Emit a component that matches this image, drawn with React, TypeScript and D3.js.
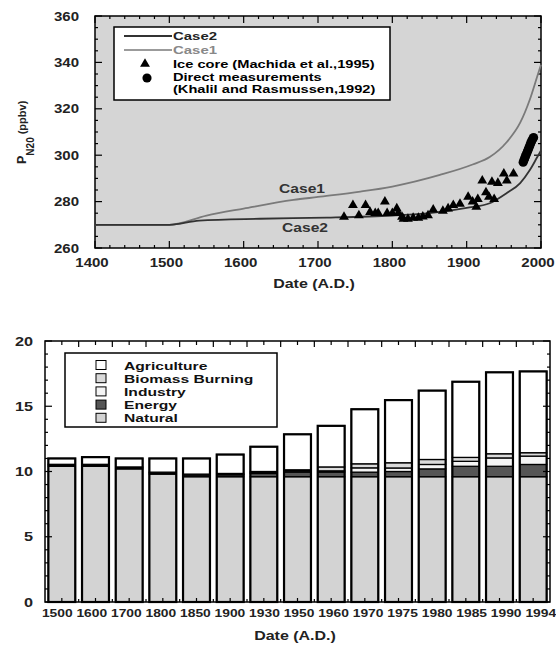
import React from 'react';
import * as d3 from 'd3';

// top panel: N2O concentration
const case1Years = [1400, 1500, 1550, 1600, 1667, 1700, 1757, 1800, 1864, 1908, 1931, 1954, 1972, 1985, 1995, 2000];
const case1Vals = [270, 270, 274, 277, 280.7, 282, 284.3, 286.5, 291.5, 296, 299.2, 305.7, 314, 324, 334, 339];
const case2Years = [1400, 1500, 1540, 1622, 1712, 1800, 1850, 1900, 1931, 1954, 1972, 1985, 1995, 2000];
const case2Vals = [270, 270, 271.8, 272.6, 273.1, 274, 275, 277.3, 279.3, 283.7, 288, 293.6, 299.2, 302];
const iceYears = [1735, 1747, 1755, 1764, 1770, 1777, 1781, 1790, 1793, 1800, 1806, 1808, 1813, 1815, 1821, 1828, 1835, 1841, 1848, 1855, 1868, 1875, 1882, 1891, 1902, 1908, 1913, 1915, 1921, 1926, 1930, 1934, 1937, 1942, 1950, 1954, 1963];
const iceVals = [273.4, 278.5, 274, 278.5, 275.5, 275, 275, 280, 275, 275, 277, 275, 273.4, 272.5, 272.5, 273, 273, 273.5, 274, 276.5, 276, 277, 278.5, 279, 282, 280, 277.7, 281, 289, 284, 282, 288.5, 281, 288, 292, 289, 292];
const directYears = [1976, 1977, 1978, 1979, 1980, 1981, 1982, 1983, 1984, 1985, 1986, 1987, 1988, 1989, 1990];
const directVals = [297, 297.8, 298.6, 299.4, 300.2, 301, 301.8, 302.6, 303.4, 304.2, 305, 305.8, 306.5, 307.1, 307.6];

// bottom panel: emissions by source
const barYears = ['1500', '1600', '1700', '1800', '1850', '1900', '1930', '1950', '1960', '1970', '1975', '1980', '1985', '1990', '1994'];
const natural = [10.4, 10.4, 10.2, 9.8, 9.6, 9.6, 9.6, 9.6, 9.6, 9.6, 9.6, 9.6, 9.6, 9.6, 9.6];
const energy = [0.1, 0.1, 0.1, 0.1, 0.12, 0.15, 0.25, 0.35, 0.35, 0.35, 0.4, 0.6, 0.8, 0.8, 0.94];
const industry = [0, 0, 0, 0, 0, 0.02, 0.05, 0.08, 0.1, 0.33, 0.27, 0.34, 0.38, 0.64, 0.64];
const biomass = [0.05, 0.05, 0.05, 0.05, 0.08, 0.08, 0.1, 0.1, 0.3, 0.31, 0.4, 0.38, 0.3, 0.32, 0.26];
const agriculture = [0.45, 0.55, 0.65, 1.05, 1.2, 1.45, 1.9, 2.72, 3.15, 4.18, 4.8, 5.28, 5.8, 6.24, 6.23];

const sourceNames = ['Natural', 'Energy', 'Industry', 'Biomass Burning', 'Agriculture'];
const sourceColors = ['#d3d3d3', '#555555', '#f4f4f4', '#dadada', '#ffffff'];
const legendOrder = ['Agriculture', 'Biomass Burning', 'Industry', 'Energy', 'Natural'];

const FONT = '"Liberation Sans", Arial, Helvetica, sans-serif';

// text stretched horizontally, like the scanned figure
function T({ x, y, sx = 1.28, size = 12, anchor = 'start', fill = '#222', children }: any) {
  return (
    <text
      transform={`translate(${x},${y}) scale(${sx},1)`}
      fontSize={size}
      fontWeight="bold"
      textAnchor={anchor}
      fill={fill}
    >
      {children}
    </text>
  );
}

function TopPanel() {
  const x = d3.scaleLinear().domain([1400, 2000]).range([95, 541]);
  const y = d3.scaleLinear().domain([260, 360]).range([248, 16]);
  const [x0, x1] = x.range();
  const [y0, y1] = y.range();

  const line = d3.line<[number, number]>().x(d => x(d[0])).y(d => y(d[1])).curve(d3.curveMonotoneX);
  const c1 = case1Years.map((v, i) => [v, case1Vals[i]] as [number, number]);
  const c2 = case2Years.map((v, i) => [v, case2Vals[i]] as [number, number]);
  const tri = d3.symbol().type(d3.symbolTriangle).size(42)();
  const circ = d3.symbol().type(d3.symbolCircle).size(66)();

  const xMinor = d3.range(1400, 2001, 20);
  const yMinor = d3.range(260, 361, 5);

  return (
    <g fontFamily={FONT}>
      <rect x={x0} y={y1} width={x1 - x0} height={y0 - y1} fill="#d5d5d5" />
      {/* ticks */}
      {xMinor.map(t => {
        const len = t % 100 === 0 ? 7 : 3;
        return (
          <g key={'xt' + t} stroke="#000" strokeWidth={1.2}>
            <line x1={x(t)} x2={x(t)} y1={y0} y2={y0 - len} />
            <line x1={x(t)} x2={x(t)} y1={y1} y2={y1 + len} />
          </g>
        );
      })}
      {yMinor.map(t => {
        const len = t % 20 === 0 ? 7 : 3;
        return (
          <g key={'yt' + t} stroke="#000" strokeWidth={1.2}>
            <line x1={x0} x2={x0 + len} y1={y(t)} y2={y(t)} />
            <line x1={x1} x2={x1 - len} y1={y(t)} y2={y(t)} />
          </g>
        );
      })}
      <rect x={x0} y={y1} width={x1 - x0} height={y0 - y1} fill="none" stroke="#000" strokeWidth={1.5} />

      <path d={line(c1) || ''} fill="none" stroke="#7a7a7a" strokeWidth={1.8} />
      <path d={line(c2) || ''} fill="none" stroke="#333" strokeWidth={1.8} />
      {iceYears.map((yr, i) => (
        <path key={'ice' + i} d={tri || ''} transform={`translate(${x(yr)},${y(iceVals[i])})`} fill="#000" />
      ))}
      {directYears.map((yr, i) => (
        <path key={'dm' + i} d={circ || ''} transform={`translate(${x(yr)},${y(directVals[i])})`} fill="#000" />
      ))}

      <T x={302} y={193} size={12.5} sx={1.25} anchor="middle" fill="#333">Case1</T>
      <T x={305} y={232} size={12.5} sx={1.25} anchor="middle" fill="#333">Case2</T>

      {/* legend */}
      <rect x={114} y={27} width={276} height={73} fill="#fff" stroke="#000" strokeWidth={1.5} />
      <line x1={124} x2={172} y1={36} y2={36} stroke="#333" strokeWidth={1.8} />
      <line x1={124} x2={172} y1={50} y2={50} stroke="#7a7a7a" strokeWidth={1.5} />
      <path d={tri || ''} transform="translate(145,64)" fill="#000" />
      <path d={circ || ''} transform="translate(147,78)" fill="#000" />
      <T x={173} y={40} size={11.5} sx={1.3} fill="#222">Case2</T>
      <T x={173} y={54} size={11.5} sx={1.3} fill="#888">Case1</T>
      <T x={173} y={68} size={11} sx={1.33} fill="#000">Ice core (Machida et al.,1995)</T>
      <T x={173} y={81} size={11} sx={1.33} fill="#000">Direct measurements</T>
      <T x={173} y={93} size={11} sx={1.33} fill="#000">(Khalil and Rasmussen,1992)</T>

      {/* tick labels */}
      {d3.range(260, 361, 20).map(t => (
        <T key={'yl' + t} x={79} y={y(t) + 4.5} size={12} sx={1.25} anchor="end">{t}</T>
      ))}
      {d3.range(1400, 2001, 100).map(t => (
        <T key={'xl' + t} x={x(t) - 3} y={267} size={12} sx={1.25} anchor="middle">{t}</T>
      ))}
      <T x={314} y={288} size={13} sx={1.23} anchor="middle">Date (A.D.)</T>
      <text transform="translate(26,164) rotate(-90)" fontSize={12.5} fontWeight="bold" fill="#222">
        P<tspan fontSize={10} dy={8}>N20</tspan><tspan dy={-8} dx={3} fontSize={11}>(ppbv)</tspan>
      </text>
    </g>
  );
}

function BottomPanel() {
  const x = d3.scaleBand<string>().domain(barYears).range([45, 550]).paddingInner(0.2).paddingOuter(0.1);
  // the printed year labels are spread a little wider than the bars
  const xLab = d3.scaleBand<string>().domain(barYears).range([40, 558]);
  const y = d3.scaleLinear().domain([0, 20]).range([602, 341]);
  const [x0, x1] = x.range();
  const [y0, y1] = y.range();

  const rows = barYears.map((yr, i) => ({
    year: yr,
    Natural: natural[i],
    Energy: energy[i],
    Industry: industry[i],
    'Biomass Burning': biomass[i],
    Agriculture: agriculture[i],
  }));
  const series = d3.stack<any>().keys(sourceNames)(rows);
  const color = d3.scaleOrdinal<string, string>().domain(sourceNames).range(sourceColors);

  const step = x.step();
  const bw = x.bandwidth();
  const topTicks = d3.range(0, barYears.length * 2 + 1).map(i => x0 + step * 0.1 + bw / 2 + (i - 1) * step / 2);

  return (
    <g fontFamily={FONT}>
      {series.map(s => (
        <g key={s.key} fill={color(s.key)}>
          {s.map((d, i) => (
            <rect
              key={i}
              x={x(barYears[i])}
              y={y(d[1])}
              width={bw}
              height={Math.max(0, y(d[0]) - y(d[1]))}
              stroke="#000"
              strokeWidth={1.3}
            />
          ))}
        </g>
      ))}
      {/* bar outlines */}
      {rows.map((r, i) => {
        const tot = natural[i] + energy[i] + industry[i] + biomass[i] + agriculture[i];
        return (
          <rect key={'o' + i} x={x(r.year)} y={y(tot)} width={bw} height={y0 - y(tot)} fill="none" stroke="#000" strokeWidth={2.2} />
        );
      })}

      {/* ticks */}
      {d3.range(0, 21, 1).map(t => {
        const len = t % 5 === 0 ? 7 : 3;
        return (
          <g key={'yt' + t} stroke="#000" strokeWidth={1.2}>
            <line x1={x0} x2={x0 + len} y1={y(t)} y2={y(t)} />
            <line x1={x1} x2={x1 - len} y1={y(t)} y2={y(t)} />
          </g>
        );
      })}
      {topTicks.filter(t => t > x0 && t < x1).map((t, i) => (
        <g key={'xt' + i} stroke="#000" strokeWidth={1.2}>
          <line x1={t} x2={t} y1={y1} y2={y1 + (i % 2 === 0 ? 4 : 6)} />
          <line x1={t} x2={t} y1={y0} y2={y0 - (i % 2 === 0 ? 4 : 3)} />
        </g>
      ))}
      <rect x={x0} y={y1} width={x1 - x0} height={y0 - y1} fill="none" stroke="#000" strokeWidth={1.5} />

      {/* legend */}
      <rect x={65} y={353} width={212} height={74} fill="#fff" stroke="#000" strokeWidth={1.5} />
      {legendOrder.map((name, i) => (
        <g key={name}>
          <rect x={96} y={360.5 + i * 13.2} width={10} height={9} fill={color(name)} stroke="#000" strokeWidth={1} />
          <T x={124} y={369.5 + i * 13.2} size={11.5} sx={1.36} fill="#111">{name}</T>
        </g>
      ))}

      {/* labels */}
      {d3.range(0, 21, 5).map(t => (
        <T key={'yl' + t} x={33} y={y(t) + 4.5} size={12.5} sx={1.3} anchor="end">{t}</T>
      ))}
      {barYears.map(yr => (
        <T key={'xl' + yr} x={(xLab(yr) || 0) + xLab.bandwidth() / 2} y={617} size={10} sx={1.38} anchor="middle">{yr}</T>
      ))}
      <T x={295} y={640} size={13} sx={1.23} anchor="middle">Date (A.D.)</T>
    </g>
  );
}

export default function App() {
  return (
    <svg width={556} height={646} style={{ position: 'absolute', left: 0, top: 0, background: '#fff' }}>
      <TopPanel />
      <BottomPanel />
    </svg>
  );
}
